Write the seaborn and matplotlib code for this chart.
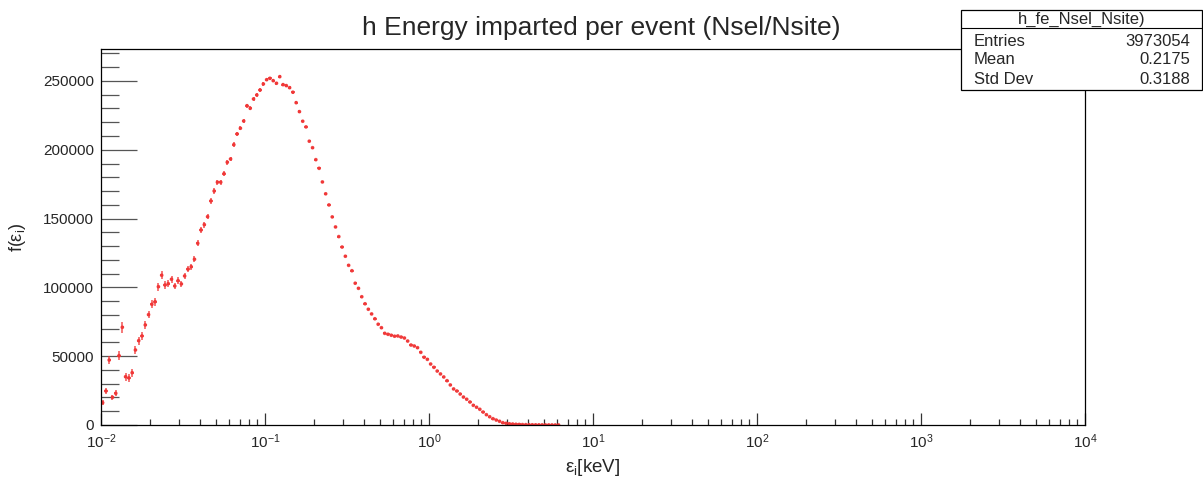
import numpy as np
import pandas as pd
import matplotlib
matplotlib.use("Agg")
import matplotlib.pyplot as plt
from matplotlib.patches import Rectangle
from matplotlib.lines import Line2D
import matplotlib.ticker as mticker
import seaborn as sns

# ---------------- data ----------------
title = "h Energy imparted per event (Nsel/Nsite)"
x_label = r"$\mathrm{ε}_\mathrm{i}$[keV]"
y_label = r"f($\mathrm{ε}_\mathrm{i}$)"
stats_name = "h_fe_Nsel_Nsite)"
stats_rows = [("Entries", "3973054"), ("Mean", "0.2175"), ("Std Dev", "0.3188")]

n_bins = 300          # log-spaced bins
x_min, x_max = 1e-2, 1e4

counts = [
    16200, 24700, 47200, 20100, 23000, 50400, 71000, 35100, 34200, 38000,
    54500, 61300, 64700, 72700, 80200, 87700, 89600, 100500, 108800, 101700,
    102700, 105900, 101000, 104900, 102500, 108300, 113200, 115000, 120400, 132000,
    141700, 145600, 151400, 162800, 170000, 176400, 176400, 182600, 190900, 193300,
    203700, 211500, 215600, 220900, 232000, 230100, 236900, 239800, 243400, 247800,
    250900, 251900, 250200, 248300, 253100, 247300, 246600, 245100, 241800, 234200,
    227700, 220700, 216600, 206200, 201500, 192800, 186500, 176600, 168000, 159900,
    151200, 143900, 136900, 129300, 122600, 116000, 112100, 103000, 99300, 93200,
    88100, 84100, 80700, 77200, 73200, 70700, 66600, 65900, 65200, 64500,
    64700, 63900, 63200, 61000, 58100, 57400, 56200, 52800, 49200, 47700,
    44300, 41900, 39200, 37100, 34900, 32200, 29100, 26200, 24700, 22500,
    20300, 18700, 16700, 14300, 12900, 11400, 9400, 7500, 6000, 4600,
    3600, 2700, 1700, 1200, 900, 700, 500, 400, 300, 250,
    200, 150, 120, 100, 80, 60, 50, 40, 30, 20,
]
errors = [
    1800, 2200, 3200, 2000, 2200, 3200, 3800, 2800, 2600, 2800,
    3000, 3000, 3000, 3000, 2800, 2800, 2800, 2800, 2800, 2600,
    2500, 2500, 2400, 2400, 2400, 2300, 2300, 2200, 2200, 2200,
    2100, 2100, 2000, 2000, 1900, 1900, 1800, 1800, 1700, 1700,
    1600, 1600, 1500, 1500, 1500, 1400, 1400, 1400, 1300, 1300,
    1300, 1200, 1200, 1200, 1200, 1100, 1100, 1100, 1000, 1000,
    900, 900, 900, 800, 800, 800, 700, 700, 700, 600,
    600, 600, 500, 500, 500, 500, 400, 400, 400, 400,
    400, 350, 350, 350, 300, 300, 300, 300, 300, 300,
    300, 300, 300, 300, 250, 250, 250, 250, 250, 250,
    250, 200, 200, 200, 200, 200, 200, 150, 150, 150,
    150, 150, 150, 120, 120, 120, 100, 100, 100, 80,
    80, 70, 60, 50, 40, 40, 30, 30, 25, 25,
    20, 20, 15, 15, 12, 10, 10, 8, 8, 6,
]
x_ticks = [1e-2, 1e-1, 1e0, 1e1, 1e2, 1e3, 1e4]
x_tick_labels = [r"$10^{-2}$", r"$10^{-1}$", r"$10^{0}$", r"$10^{1}$",
                 r"$10^{2}$", r"$10^{3}$", r"$10^{4}$"]
y_ticks = [0, 50000, 100000, 150000, 200000, 250000]
y_top = 273200

# ---------------- style ----------------
sns.set_theme(style="white")
plt.rcParams["font.family"] = ["Liberation Sans", "DejaVu Sans"]
plt.rcParams["mathtext.fontset"] = "custom"
plt.rcParams["mathtext.rm"] = "Liberation Sans"
plt.rcParams["mathtext.it"] = "Liberation Sans"
plt.rcParams["mathtext.bf"] = "Liberation Sans:bold"
plt.rcParams["axes.unicode_minus"] = False

edges = np.logspace(np.log10(x_min), np.log10(x_max), n_bins + 1)
n = len(counts)
lo = edges[:n]
hi = edges[1:n + 1]
centers = np.sqrt(lo * hi)
df = pd.DataFrame({"x": centers, "y": counts, "err": errors})

W, H = 1203, 484
fig = plt.figure(figsize=(W / 100, H / 100), dpi=100)
ax = fig.add_axes([101 / W, 1 - 425 / H, 984 / W, 376 / H])

red = "#f03535"
ax.errorbar(df["x"], df["y"], yerr=df["err"],
            xerr=[df["x"] - lo, hi - df["x"]],
            fmt="none", ecolor=red, elinewidth=1.1, alpha=0.85, capsize=0)
sns.scatterplot(data=df, x="x", y="y", ax=ax, color=red, s=7,
                edgecolor="none", alpha=0.9, legend=False)

ax.set_xscale("log")
ax.set_xlim(x_min, x_max)
ax.set_ylim(0, y_top)
ax.set_xticks(x_ticks)
ax.set_xticklabels(x_tick_labels)
ax.xaxis.set_minor_locator(mticker.LogLocator(base=10, subs=np.arange(2, 10), numticks=20))
ax.xaxis.set_minor_formatter(mticker.NullFormatter())
ax.set_yticks(y_ticks)
ax.set_yticklabels([str(v) for v in y_ticks])
ax.yaxis.set_minor_locator(mticker.MultipleLocator(10000))

ax.tick_params(axis="x", which="major", direction="in", length=8.6, width=0.9,
               color="#333333", labelsize=11, pad=5, top=False, bottom=True)
ax.tick_params(axis="x", which="minor", direction="in", length=4.3, width=0.9,
               color="#333333", top=False, bottom=True)
ax.tick_params(axis="y", which="major", direction="in", length=26, width=0.9,
               color="#555555", labelsize=11, pad=5, left=True, right=False)
ax.tick_params(axis="y", which="minor", direction="in", length=13, width=0.9,
               color="#555555", left=True, right=False)
for sp in ax.spines.values():
    sp.set_color("black")
    sp.set_linewidth(0.9)

ax.set_xlabel(x_label, fontsize=13.5)
ax.xaxis.set_label_coords(0.5, (425 - 468) / 376, transform=ax.transAxes)
ax.xaxis.label.set_va("center")
ax.set_ylabel(y_label, fontsize=13)
ax.yaxis.set_label_coords((18 - 101) / 984, 0.5, transform=ax.transAxes)
ax.yaxis.label.set_va("center")

fig.text(601 / W, 1 - 28 / H, title, ha="center", va="center", fontsize=19)

# stats box
bx0, by0, bx1, by1 = 961, 10, 1202, 90
fig.patches.append(Rectangle((bx0 / W, 1 - by1 / H), (bx1 - bx0) / W, (by1 - by0) / H,
                             transform=fig.transFigure, facecolor="white",
                             edgecolor="black", linewidth=0.9, zorder=10))
fig.lines.append(Line2D([bx0 / W, bx1 / W], [1 - 28 / H, 1 - 28 / H],
                        transform=fig.transFigure, color="black", linewidth=0.8, zorder=11))
fig.text((bx0 + bx1) / 2 / W, 1 - 19 / H, stats_name, ha="center", va="center",
         fontsize=12, zorder=12)
for i, (k, v) in enumerate(stats_rows):
    yy = 1 - (41 + 19 * i) / H
    fig.text(974 / W, yy, k, ha="left", va="center", fontsize=12, zorder=12)
    fig.text(1190 / W, yy, v, ha="right", va="center", fontsize=12, zorder=12)

fig.savefig("out.png", dpi=100)
